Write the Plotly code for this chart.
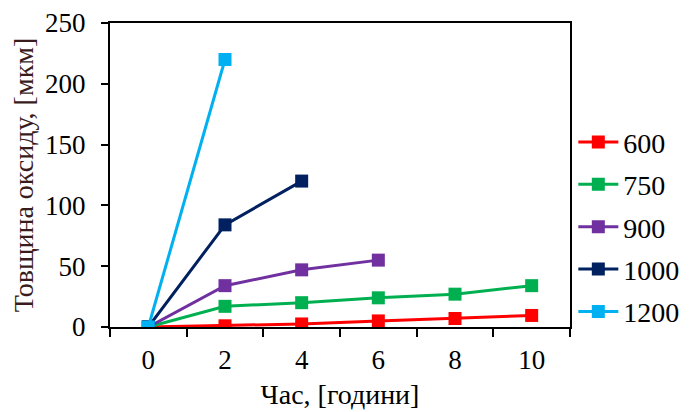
import plotly.graph_objects as go

series_names = ["600", "750", "900", "1000", "1200"]
series_x = [
    [0, 2, 4, 6, 8, 10],
    [0, 2, 4, 6, 8, 10],
    [0, 2, 4, 6],
    [0, 2, 4],
    [0, 2],
]
series_y = [
    [0, 1, 2.5, 5, 7, 9.5],
    [0, 17, 20, 24, 27, 34],
    [0, 34, 47, 55],
    [0, 84, 120],
    [0, 220],
]
colors = ["#FF0000", "#00B050", "#7030A0", "#002060", "#00B0F0"]
x_ticks = [0, 2, 4, 6, 8, 10]
y_ticks = [0, 50, 100, 150, 200, 250]

fig = go.Figure()
for name, xs, ys, c in zip(series_names, series_x, series_y, colors):
    fig.add_trace(go.Scatter(
        x=xs, y=ys, name=name, mode="lines+markers",
        line=dict(color=c, width=3),
        marker=dict(symbol="square", size=13, color=c),
        legendgroup=name,
    ))

font = "Liberation Serif, Times New Roman, serif"
fig.update_layout(
    width=689, height=412,
    margin=dict(l=102, r=127, t=15, b=93),
    paper_bgcolor="white", plot_bgcolor="white",
    font=dict(family=font, size=26, color="black"),
    showlegend=True,
    legend=dict(xref="container", yref="container", x=0.8205, xanchor="left",
                y=0.735, yanchor="top",
                traceorder="grouped", tracegroupgap=3,
                font=dict(size=28), itemwidth=40),
)
fig.update_xaxes(
    range=[-1, 11], tickvals=x_ticks, ticks="", showgrid=False, zeroline=False,
    showline=True, linecolor="black", linewidth=2, mirror=True, automargin=False,
    minor=dict(tickvals=[-1, 1, 3, 5, 7, 9, 11], ticks="outside", ticklen=8,
               tickwidth=2, tickcolor="black", showgrid=False),
    title=dict(text="Час, [години]", font=dict(size=28), standoff=10),
    tickfont=dict(size=27), ticklabelstandoff=8,
)
fig.update_yaxes(
    range=[0, 250], tickvals=y_ticks, ticks="outside", ticklen=7, tickwidth=2,
    tickcolor="black", showgrid=False, zeroline=False,
    showline=True, linecolor="black", linewidth=2, mirror=True, automargin=False,
    title=dict(text="Товщина оксиду, [мкм]", font=dict(size=28, color="#3a1c1c"), standoff=6),
    tickfont=dict(size=27), ticklabelstandoff=10,
)
fig.write_html("out.html")
